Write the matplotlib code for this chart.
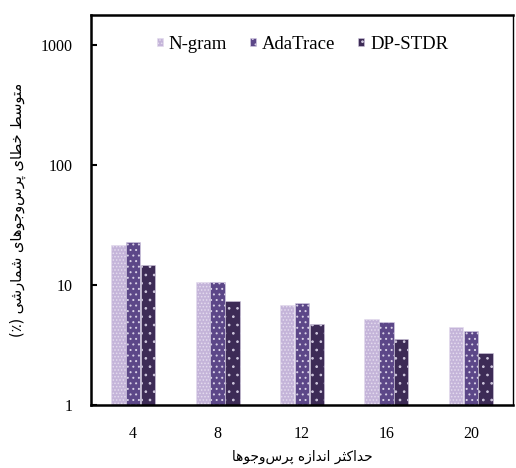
import matplotlib
matplotlib.use("Agg")
import matplotlib.pyplot as plt
import numpy as np

categories = ["4", "8", "12", "16", "20"]
series_names = ["N-gram", "AdaTrace", "DP-STDR"]
ngram = [21.5, 10.6, 6.8, 5.2, 4.5]
adatrace = [22.8, 10.6, 7.1, 4.95, 4.15]
dpstdr = [14.7, 7.3, 4.7, 3.55, 2.7]
yticks = [1, 10, 100, 1000]
ylabel_fa = "متوسط خطای پرس\u200cوجوهای شمارشی (٪)"
xlabel_fa = "حداکثر اندازه پرس\u200cوجوها"

# --- minimal Arabic/Persian shaping (presentation forms) for LTR rendering ---
FORMS = {  # isolated, final, initial, medial
    '\u0627': ('\uFE8D', '\uFE8E', None, None),
    '\u0628': ('\uFE8F', '\uFE90', '\uFE91', '\uFE92'),
    '\u062A': ('\uFE95', '\uFE96', '\uFE97', '\uFE98'),
    '\u062B': ('\uFE99', '\uFE9A', '\uFE9B', '\uFE9C'),
    '\u062C': ('\uFE9D', '\uFE9E', '\uFE9F', '\uFEA0'),
    '\u062D': ('\uFEA1', '\uFEA2', '\uFEA3', '\uFEA4'),
    '\u062E': ('\uFEA5', '\uFEA6', '\uFEA7', '\uFEA8'),
    '\u062F': ('\uFEA9', '\uFEAA', None, None),
    '\u0630': ('\uFEAB', '\uFEAC', None, None),
    '\u0631': ('\uFEAD', '\uFEAE', None, None),
    '\u0632': ('\uFEAF', '\uFEB0', None, None),
    '\u0633': ('\uFEB1', '\uFEB2', '\uFEB3', '\uFEB4'),
    '\u0634': ('\uFEB5', '\uFEB6', '\uFEB7', '\uFEB8'),
    '\u0637': ('\uFEC1', '\uFEC2', '\uFEC3', '\uFEC4'),
    '\u0645': ('\uFEE1', '\uFEE2', '\uFEE3', '\uFEE4'),
    '\u0646': ('\uFEE5', '\uFEE6', '\uFEE7', '\uFEE8'),
    '\u0647': ('\uFEE9', '\uFEEA', '\uFEEB', '\uFEEC'),
    '\u0648': ('\uFEED', '\uFEEE', None, None),
    '\u067E': ('\uFB56', '\uFB57', '\uFB58', '\uFB59'),
    '\u06A9': ('\uFB8E', '\uFB8F', '\uFB90', '\uFB91'),
    '\u06CC': ('\uFBFC', '\uFBFD', '\uFBFE', '\uFBFF'),
}

def shape(text):
    chars = list(text)
    out = []
    for i, c in enumerate(chars):
        if c not in FORMS:
            out.append('' if c == '\u200c' else c)
            continue
        f = FORMS[c]
        prev = chars[i - 1] if i > 0 else None
        nxt = chars[i + 1] if i + 1 < len(chars) else None
        join_prev = prev in FORMS and FORMS[prev][2] is not None
        join_next = nxt in FORMS and f[2] is not None
        if join_prev and join_next:
            out.append(f[3])
        elif join_prev:
            out.append(f[1])
        elif join_next:
            out.append(f[2])
        else:
            out.append(f[0])
    s = ''.join(out)[::-1]
    s = s.translate(str.maketrans({'(': ')', ')': '('}))
    return s

plt.rcParams['font.family'] = ['Liberation Serif', 'DejaVu Sans']
plt.rcParams['hatch.linewidth'] = 0.7

fig = plt.figure(figsize=(5.16, 4.68), dpi=100)
ax = fig.add_axes([91 / 516, 63 / 468, 422 / 516, 390 / 468])

x = np.arange(len(categories))
w = 0.17
colors = ['#c4b4d9', '#5c4788', '#3d2b56']
hatch_colors = ['#e4dcee', '#d8d0e6', '#d0c8de']
hatches = ['.....', '...', '..']
data = [ngram, adatrace, dpstdr]
for k, (vals, name) in enumerate(zip(data, series_names)):
    ax.bar(x + (k - 1) * (w + 0.005), vals, width=w, bottom=0, color=colors[k],
           edgecolor=hatch_colors[k], linewidth=0.4,
           hatch=hatches[k], label=name, zorder=2)

ax.set_yscale('log')
ax.set_ylim(1, 10 ** 3.25)
ax.set_xlim(-0.5, len(categories) - 0.5)
ax.set_yticks(yticks)
ax.set_yticklabels([str(t) for t in yticks])
ax.minorticks_off()
ax.set_xticks(x)
ax.set_xticklabels(categories)
ax.tick_params(axis='x', length=0, labelsize=11.5, pad=15)
ax.tick_params(axis='y', direction='in', length=4, width=1.5, labelsize=11.5, pad=13.5)

for side in ['left', 'bottom', 'top']:
    ax.spines[side].set_linewidth(1.8)
ax.spines['right'].set_linewidth(1.0)

ax.set_ylabel(shape(ylabel_fa), family=['DejaVu Sans'], fontsize=10.5, labelpad=10)
ax.set_xlabel(shape(xlabel_fa), family=['DejaVu Sans'], fontsize=9.8, labelpad=6)

leg = ax.legend(loc='center', bbox_to_anchor=(0.501, 0.925), ncol=3, frameon=False,
                fontsize=13.5, handlelength=0.35, handleheight=0.35, handletextpad=0.3,
                columnspacing=1.2)

fig.savefig('out.png', dpi=100)
